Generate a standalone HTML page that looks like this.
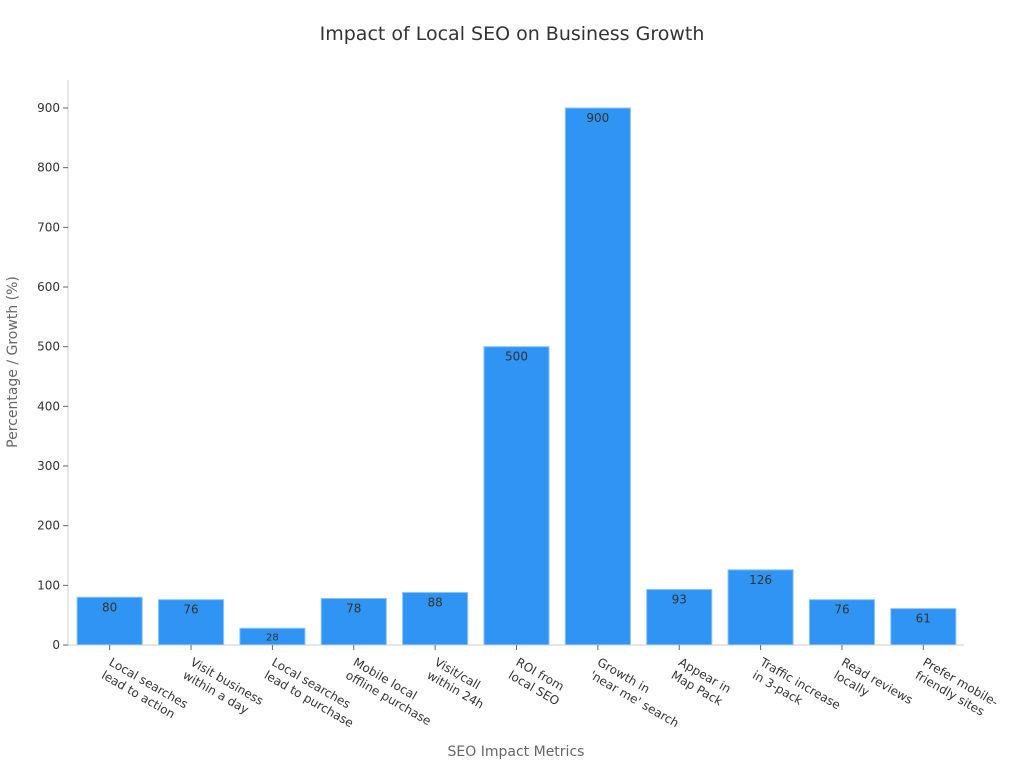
<!DOCTYPE html>
<html><head><meta charset="utf-8">
<style>
body{margin:0;background:#fff;}
svg{display:block;font-family:"DejaVu Sans","Liberation Sans",sans-serif;}
</style></head>
<body>
<svg id="chart" width="1024" height="768">
<text x="512" y="40" text-anchor="middle" font-size="19" fill="#333">Impact of Local SEO on Business Growth</text>
<g id="yaxis"></g>
<g id="bars"></g>
<g id="xaxis"></g>
<text transform="translate(17,362) rotate(-90)" text-anchor="middle" font-size="14" fill="#666">Percentage / Growth (%)</text>
<text x="516" y="756" text-anchor="middle" font-size="14" fill="#666">SEO Impact Metrics</text>
</svg>
<script>
const categories=[["Local searches","lead to action"],["Visit business","within a day"],["Local searches","lead to purchase"],["Mobile local","offline purchase"],["Visit/call","within 24h"],["ROI from","local SEO"],["Growth in","'near me' search"],["Appear in","Map Pack"],["Traffic increase","in 3-pack"],["Read reviews","locally"],["Prefer mobile-","friendly sites"]];
const values=[80,76,28,78,88,500,900,93,126,76,61];
const yTicks=[0,100,200,300,400,500,600,700,800,900];
const NS="http://www.w3.org/2000/svg";
const L=69,R=964,T=80,B=645,YMAX=900,Y900=108;
function y(v){return B-(B-Y900)*v/YMAX;}
const band=(R-L)/categories.length;
function xc(i){return L+band*(i+0.5);}
function mk(tag,attrs,parent){const e=document.createElementNS(NS,tag);for(const k in attrs)e.setAttribute(k,attrs[k]);parent.appendChild(e);return e;}
const ya=document.getElementById('yaxis'),ba=document.getElementById('bars'),xa=document.getElementById('xaxis');
let l=mk('line',{x1:68,x2:68,y1:T,y2:B,stroke:'#ccc'},ya);


yTicks.forEach(t=>{
 const tk=mk('line',{x1:63,x2:68,y1:y(t),y2:y(t),stroke:'#666'},ya);
 
 
 const tx=mk('text',{x:60,y:y(t)+4,'text-anchor':'end','font-size':12,fill:'#333'},ya);
 tx.textContent=t;
 
 
});
l=mk('line',{x1:68,x2:R,y1:B,y2:B,stroke:'#ccc'},xa);


const bw=band*0.8;
values.forEach((v,i)=>{
 const r=mk('rect',{x:xc(i)-bw/2,y:y(v),width:bw,height:B-y(v),fill:'#3094f5',stroke:'#8cc4f8','stroke-width':1},ba);
 
 
 const small=(B-y(v))<25;
 const vt=mk('text',{x:xc(i),y:y(v)+(small?12:14),'text-anchor':'middle','font-size':small?10:12,fill:'#333'},ba);
 vt.textContent=v;
 
 
 const tk=mk('line',{x1:xc(i),x2:xc(i),y1:B,y2:B+5,stroke:'#666'},xa);
 
 
 const g=mk('g',{transform:`translate(${xc(i)+4},${B+10}) rotate(30)`},xa);
 
 
 categories[i].forEach((ln,j)=>{
  const t=mk('text',{x:0,y:11+j*15,'font-size':12,fill:'#333'},g);
  t.textContent=ln;
 });
});
</script>
</body></html>
